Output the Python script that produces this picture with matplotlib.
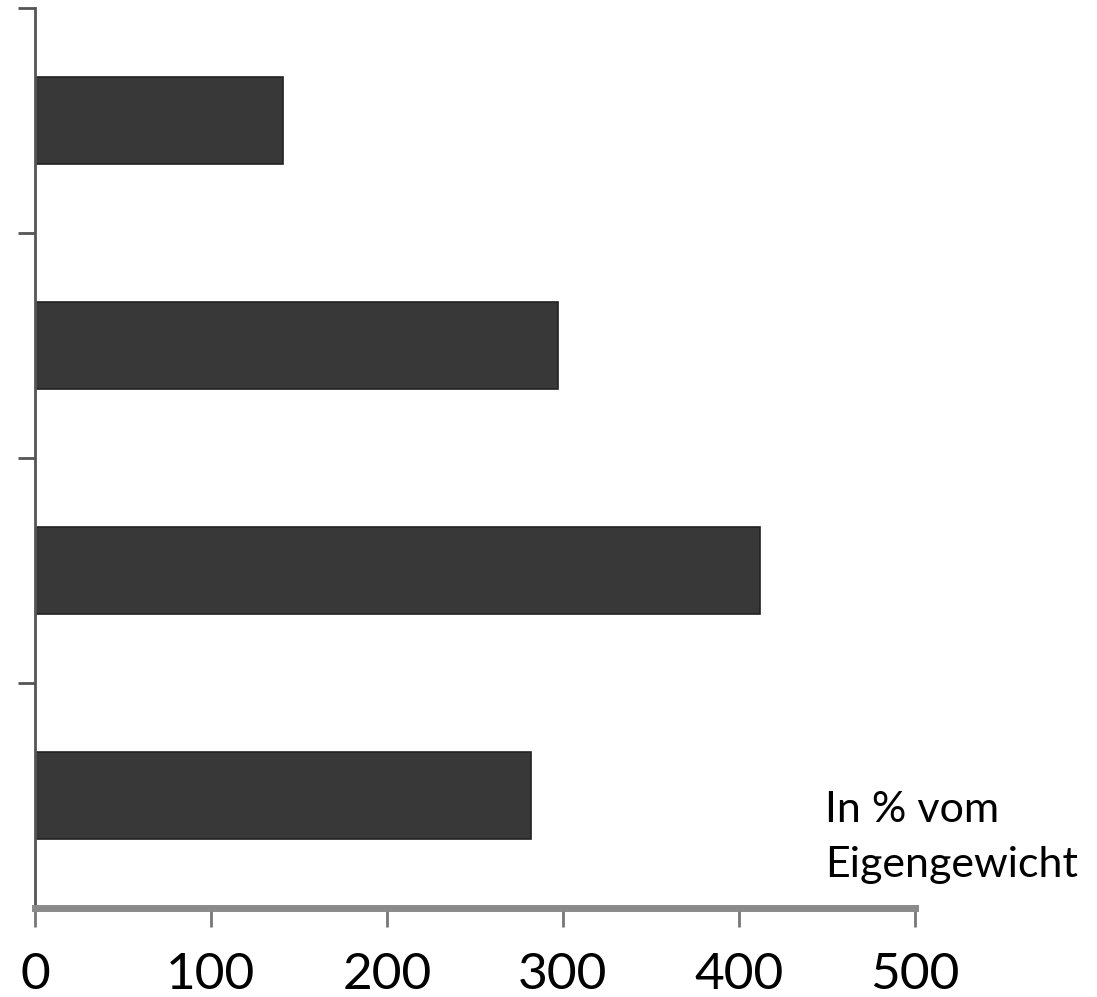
import matplotlib.pyplot as plt

# Belastung je Kategorie, in % vom Eigengewicht (von unten nach oben)
categories = ["A", "B", "C", "D"]
values = [282, 412, 297, 141]
x_ticks = [0, 100, 200, 300, 400, 500]

fig = plt.figure(figsize=(10.97, 9.97), dpi=100)
ax = fig.add_axes([0.0319, 0.0893, 0.802, 0.9027])

ax.barh(range(len(categories)), values, height=0.39, color='#383838',
        edgecolor='#222222', linewidth=1.2)

ax.set_xlim(0, 500)
ax.set_ylim(-0.5, len(categories) - 0.5)

ax.set_xticks(x_ticks)
ax.set_xticklabels([str(t) for t in x_ticks], fontsize=37, family='Lato')
ax.tick_params(axis='x', length=14, width=2, color='#777777', pad=18)

ax.set_yticks([i + 0.5 for i in range(len(categories))])
ax.set_yticklabels([])
ax.tick_params(axis='y', length=12, width=2, color='#555555')

for side in ['top', 'right']:
    ax.spines[side].set_visible(False)
ax.spines['left'].set_color('#555555')
ax.spines['left'].set_linewidth(2)
ax.spines['bottom'].set_color('#8a8a8a')
ax.spines['bottom'].set_linewidth(5)

fig.text(0.752, 0.207, "In % vom\nEigengewicht", fontsize=31, family='Lato',
         ha='left', va='top', linespacing=1.55)

fig.savefig('out.png', dpi=100, facecolor='white')
